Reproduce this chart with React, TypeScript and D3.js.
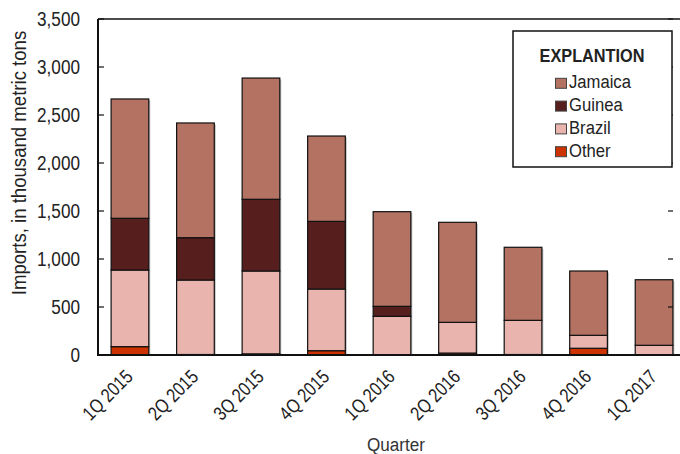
import React from "react";
import * as d3 from "d3";

const categories = ["1Q 2015", "2Q 2015", "3Q 2015", "4Q 2015", "1Q 2016", "2Q 2016", "3Q 2016", "4Q 2016", "1Q 2017"];
const other = [87, 5, 12, 45, 0, 20, 5, 70, 0];
const brazil = [798, 776, 863, 642, 403, 320, 356, 135, 101];
const guinea = [539, 441, 747, 705, 104, 0, 0, 0, 0];
const jamaica = [1243, 1195, 1263, 889, 986, 1042, 761, 670, 683];
const yTicks = [0, 500, 1000, 1500, 2000, 2500, 3000, 3500];

const seriesKeys = ["other", "brazil", "guinea", "jamaica"];
const seriesNames: Record<string, string> = { jamaica: "Jamaica", guinea: "Guinea", brazil: "Brazil", other: "Other" };
const colors: Record<string, string> = { jamaica: "#b37262", guinea: "#561f1e", brazil: "#e8b4ad", other: "#cc3300" };
const legendOrder = ["jamaica", "guinea", "brazil", "other"];

const W = 680, H = 454;
const M = { left: 98, right: 686, top: 19, bottom: 355 };
const FONT = "'Liberation Sans', Arial, sans-serif";

export default function App() {
  const rows = categories.map((c, i) => ({ cat: c, other: other[i], brazil: brazil[i], guinea: guinea[i], jamaica: jamaica[i] }));
  const stack = d3.stack<any>().keys(seriesKeys)(rows);
  const x = d3.scaleBand().domain(categories).range([M.left, M.right]).paddingInner(0.425).paddingOuter(0.2);
  const y = d3.scaleLinear().domain([0, 3500]).range([M.bottom, M.top]);
  const bw = x.bandwidth();

  return (
    <svg width={W} height={H} style={{ position: "absolute", left: 0, top: 0, background: "#fff" }} fontFamily={FONT}>
      <rect x={0} y={0} width={W} height={H} fill="#fff" />
      {categories.map((c, i) => {
        const top = y(other[i] + brazil[i] + guinea[i] + jamaica[i]);
        return <rect key={"s" + c} x={(x(c) as number) + 1.5} y={top + 1.5} width={bw} height={M.bottom - top - 1.5} fill="#999" opacity={0.6} />;
      })}
      {stack.map((s) => (
        <g key={s.key}>
          {s.map((d, i) => {
            const h = y(d[0]) - y(d[1]);
            if (h <= 0) return null;
            return (
              <rect key={i} x={x(categories[i]) as number} y={y(d[1])} width={bw} height={h}
                fill={colors[s.key]} stroke="#111" strokeWidth={1.2} />
            );
          })}
        </g>
      ))}
      <line x1={M.left} x2={W} y1={M.top} y2={M.top} stroke="#111" strokeWidth={1.5} />
      <line x1={M.left} x2={M.left} y1={M.top} y2={M.bottom + 1} stroke="#111" strokeWidth={2} />
      <line x1={M.left - 1} x2={W} y1={M.bottom} y2={M.bottom} stroke="#111" strokeWidth={2} />
      {yTicks.map((t) => (
        <g key={t}>
          <line x1={M.left} x2={M.left + 6} y1={y(t)} y2={y(t)} stroke="#111" strokeWidth={1.2} />
          <line x1={668} x2={673} y1={y(t)} y2={y(t)} stroke="#111" strokeWidth={1.2} />
          <text transform={`translate(80 ${y(t) + 7}) scale(0.88 1)`} textAnchor="end" fontSize={19.5} fill="#222">{d3.format(",")(t)}</text>
        </g>
      ))}
      {categories.map((c) => {
        const cx = (x(c) as number) + bw / 2 + 4;
        return (
          <text key={c} transform={`translate(${cx} 378) rotate(-45) scale(0.82 1)`} textAnchor="end" fontSize={19.5} fill="#222">{c}</text>
        );
      })}
      <text transform="translate(396 451) scale(0.9 1)" textAnchor="middle" fontSize={19} fill="#333">Quarter</text>
      <text transform="translate(26 163) rotate(-90) scale(0.93 1)" textAnchor="middle" fontSize={20} fill="#222">Imports, in thousand metric tons</text>
      <rect x={513} y={31} width={159} height={136} fill="#fff" stroke="#111" strokeWidth={1.5} />
      <text transform="translate(592 61.7) scale(0.88 1)" textAnchor="middle" fontSize={18.5} fontWeight="bold" fill="#222">EXPLANTION</text>
      {legendOrder.map((k, i) => {
        const by = 88.3 + i * 22.8;
        return (
          <g key={k}>
            <rect x={555.5} y={by - 10} width={11} height={10} fill={colors[k]} stroke="#444" strokeWidth={1} />
            <text transform={`translate(569 ${by}) scale(0.9 1)`} fontSize={18.5} fill="#222">{seriesNames[k]}</text>
          </g>
        );
      })}
    </svg>
  );
}
